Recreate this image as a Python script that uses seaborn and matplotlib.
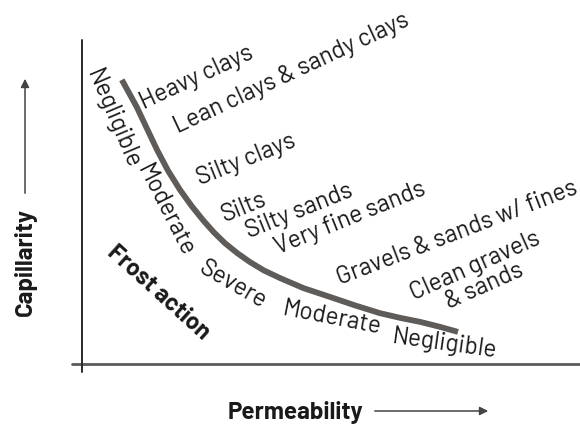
import matplotlib
matplotlib.use("Agg")
import matplotlib.pyplot as plt
import seaborn as sns
import pandas as pd

# Capillarity vs permeability boundary curve (relative units, 0-100)
permeability = [8.0, 9.5, 11.0, 13.0, 15.1, 17.3, 19.7, 22.0, 24.3, 26.5, 28.7,
                31.2, 33.7, 36.5, 39.8, 44.5, 49.8, 54.8, 59.8, 64.0, 67.9, 71.8, 75.5]
capillarity = [87.7, 83.5, 79.3, 72.8, 66.0, 59.6, 53.7, 48.8, 44.4, 40.6, 37.3,
               34.2, 31.5, 28.9, 26.5, 23.4, 20.7, 18.1, 15.7, 14.2, 13.0, 11.5, 9.9]

# Soil types above the curve: label, centre position, angle
soil_labels = ["Heavy clays", "Lean clays & sandy clays", "Silty clays", "Silts",
               "Silty sands", "Very fine sands", "Gravels & sands w/ fines",
               "Clean gravels\n& sands"]
soil_x = [23.1, 42.0, 32.9, 32.5, 43.6, 53.8, 75.3, 79.9]
soil_y = [88.3, 89.8, 63.0, 48.5, 47.2, 45.1, 40.4, 27.2]
soil_angle = [25, 25, 22, 22, 22, 22, 21, 24]

# Frost action severity below the curve
frost_labels = ["Negligible", "Moderate", "Severe", "Moderate", "Negligible"]
frost_x = [6.2, 16.7, 30.3, 50.2, 72.9]
frost_y = [75.6, 47.2, 24.4, 14.2, 6.2]
frost_angle = [-67, -63, -30, -11, -8]

df = pd.DataFrame({"Permeability": permeability, "Capillarity": capillarity})

sns.set_style("white")
plt.rcParams["font.family"] = ["Barlow", "DejaVu Sans"]

W, H = 580, 429
fig = plt.figure(figsize=(W / 100, H / 100), dpi=100)
x0, x1, y0, y1 = 82, 580, 40, 364
ax = fig.add_axes([x0 / W, 1 - y1 / H, (x1 - x0) / W, (y1 - y0) / H])
ax.set_xlim(0, 100)
ax.set_ylim(0, 100)
for s in ax.spines.values():
    s.set_visible(False)
ax.set_xticks([])
ax.set_yticks([])

# Axis lines crossing at the origin
ax.plot([-2.0, 100], [0, 0], color="#5a5a5a", lw=2.0, clip_on=False)
ax.plot([0, 0], [-2.5, 100], color="#2a2a2a", lw=1.4, clip_on=False)

sns.lineplot(data=df, x="Permeability", y="Capillarity", sort=False, ax=ax,
             color="#5e5b59", lw=4.2, solid_capstyle="butt", legend=False)
ax.set_xlabel("")
ax.set_ylabel("")

LABEL_SIZE = 17.5
for t, x, y, a in zip(soil_labels, soil_x, soil_y, soil_angle):
    ax.text(x, y, t, rotation=a, rotation_mode="anchor", ha="center", va="center",
            fontsize=LABEL_SIZE, color="#1a1a1a", linespacing=0.92)
for t, x, y, a in zip(frost_labels, frost_x, frost_y, frost_angle):
    ax.text(x, y, t, rotation=a, rotation_mode="anchor", ha="center", va="center",
            fontsize=LABEL_SIZE, color="#1a1a1a")
ax.text(15.3, 21.9, "Frost action", rotation=-42, rotation_mode="anchor",
        ha="center", va="center", fontsize=17.3, fontweight="bold", color="#1a1a1a")

# Axis titles with arrows
fig.text(25 / W, 1 - 262 / H, "Capillarity", rotation=90, ha="center", va="center",
         fontsize=17.3, fontweight="bold", color="#1a1a1a")
fig.add_artist(matplotlib.patches.FancyArrowPatch(
    (25 / W, 1 - 196 / H), (25 / W, 1 - 76 / H), transform=fig.transFigure,
    arrowstyle="-|>,head_length=5,head_width=2.5", color="#444444", lw=1.1))
fig.text(295 / W, 1 - 413 / H, "Permeability", ha="center", va="center",
         fontsize=17.3, fontweight="bold", color="#1a1a1a")
fig.add_artist(matplotlib.patches.FancyArrowPatch(
    (372 / W, 1 - 411 / H), (491 / W, 1 - 411 / H), transform=fig.transFigure,
    arrowstyle="-|>,head_length=5,head_width=2.5", color="#444444", lw=1.1))

fig.savefig("out.png", dpi=100, facecolor="white")
